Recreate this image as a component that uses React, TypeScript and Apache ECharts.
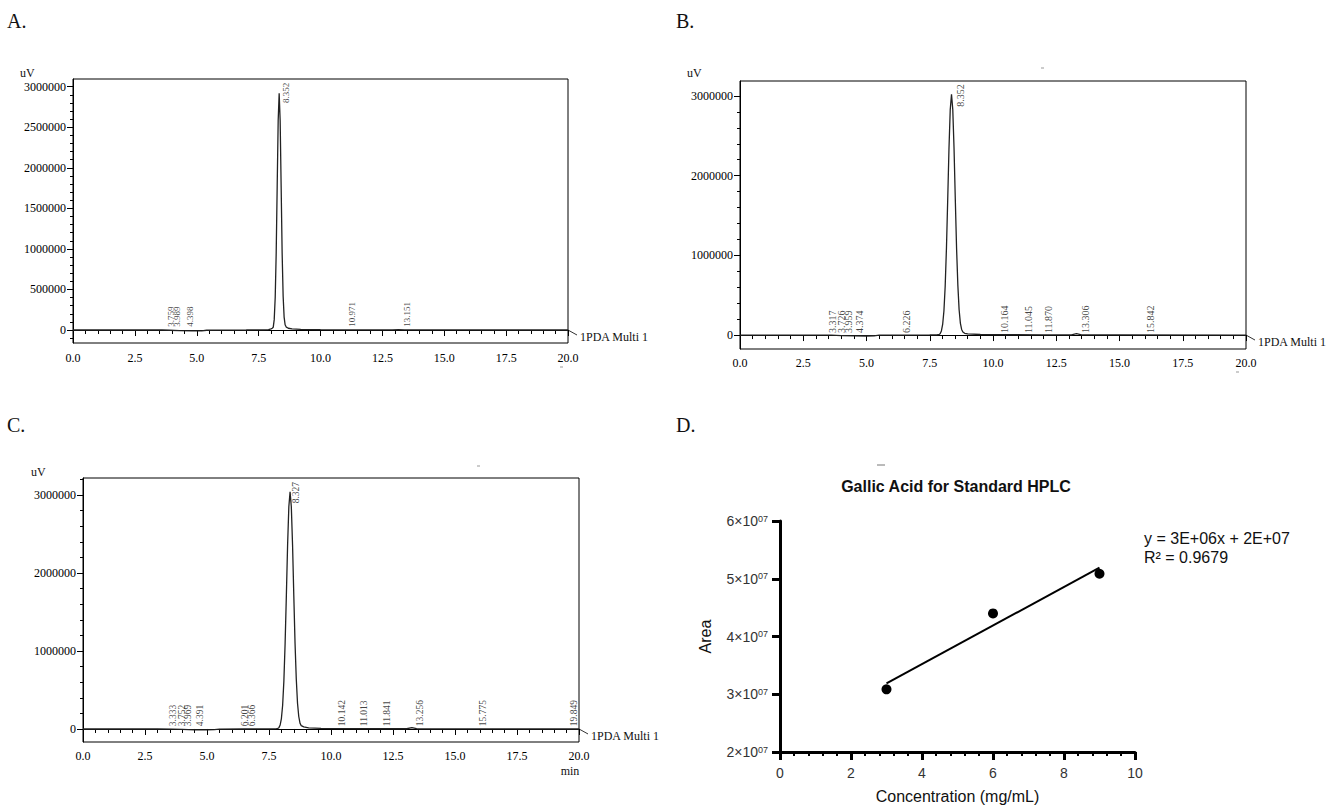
import React, { useEffect, useRef } from 'react';
import * as echarts from 'echarts';

const SERIF = '"Liberation Serif", "Times New Roman", Times, serif';
const SANS = '"Liberation Sans", Arial, Helvetica, sans-serif';

// ---------- Panel A chromatogram (time in min, signal in uV) ----------
const traceA: [number, number][] = [
  [0, 0], [1.0, 0], [2.0, 0], [3.0, 0], [3.6, 0], [3.9, -3000], [4.3, -8000], [4.8, -11000],
  [5.2, -11000], [5.4, -3000], [6.0, -1000], [7.0, 0], [7.7, 2000], [7.9, 6000], [8.0, 14000],
  [8.05, 22000], [8.09, 33000], [8.13, 128000], [8.17, 400000], [8.21, 950000], [8.25, 1770000],
  [8.29, 2580000], [8.33, 2920000], [8.37, 2580000], [8.41, 1770000], [8.45, 950000], [8.49, 420000],
  [8.53, 160000], [8.57, 65000], [8.62, 35000], [8.7, 22000], [8.85, 13000], [9.2, 7000], [10, 4000],
  [11, 3000], [12.9, 2000], [13.15, 5000], [13.4, 2000], [15, 1000], [17.5, 500], [20, 0],
];
const peaksA: [number, number, string][] = [
  [3.96, 40000, '3.759'], [4.19, 40000, '3.989'], [4.73, 40000, '4.398'],
  [8.62, 2800000, '8.352'], [11.27, 40000, '10.971'], [13.48, 40000, '13.151'],
];
const yMajorA = [0, 500000, 1000000, 1500000, 2000000, 2500000, 3000000];
const yMinorA = [
  -100000, 100000, 200000, 300000, 400000, 600000, 700000, 800000, 900000,
  1100000, 1200000, 1300000, 1400000, 1600000, 1700000, 1800000, 1900000,
  2100000, 2200000, 2300000, 2400000, 2600000, 2700000, 2800000, 2900000,
];

// ---------- Panel B chromatogram ----------
const traceB: [number, number][] = [
  [0, 0], [1.5, 0], [3.0, 0], [3.6, -2000], [4.0, -6000], [4.5, -11000], [5.0, -12000], [5.3, -9000],
  [5.5, -2000], [6.5, 0], [7.5, 2000], [7.8, 4000], [7.86, 5000], [7.91, 17000], [7.96, 51000],
  [8.01, 133000], [8.06, 302000], [8.11, 613000], [8.16, 1090000], [8.21, 1700000], [8.26, 2340000],
  [8.31, 2830000], [8.36, 3020000], [8.41, 2830000], [8.46, 2340000], [8.51, 1700000], [8.56, 1090000],
  [8.61, 630000], [8.66, 320000], [8.71, 150000], [8.76, 70000], [8.81, 38000], [8.88, 22000],
  [9.0, 14000], [9.5, 7000], [10.5, 4000], [12, 3000], [13.1, 3000], [13.3, 18000], [13.5, 3000],
  [15, 1500], [20, 0],
];
const peaksB: [number, number, string][] = [
  [3.66, 25000, '3.317'], [4.02, 25000, '3.726'], [4.28, 25000, '3.959'], [4.72, 25000, '4.374'],
  [6.59, 25000, '6.226'], [8.73, 2865000, '8.352'], [10.47, 25000, '10.164'], [11.40, 25000, '11.045'],
  [12.19, 25000, '11.870'], [13.64, 25000, '13.306'], [16.21, 25000, '15.842'],
];
const yMajorBC = [0, 1000000, 2000000, 3000000];
const yMinorB = [
  200000, 400000, 600000, 800000, 1200000, 1400000, 1600000, 1800000,
  2200000, 2400000, 2600000, 2800000,
];

// ---------- Panel C chromatogram ----------
const traceC: [number, number][] = [
  [0, 0], [1.5, 0], [3.0, 0], [3.6, -2000], [4.0, -6000], [4.5, -11000], [5.0, -12000], [5.3, -9000],
  [5.5, -2000], [6.5, 0], [7.5, 2000], [7.8, 4000], [7.85, 5000], [7.9, 17000], [7.95, 51000],
  [8.0, 134000], [8.05, 305000], [8.1, 617000], [8.15, 1100000], [8.2, 1710000], [8.25, 2360000],
  [8.3, 2850000], [8.35, 3040000], [8.4, 2850000], [8.45, 2360000], [8.5, 1710000], [8.55, 1100000],
  [8.6, 640000], [8.65, 330000], [8.7, 160000], [8.75, 75000], [8.8, 42000], [8.9, 26000],
  [9.1, 15000], [9.6, 7000], [10.5, 4000], [12, 3000], [13.05, 3000], [13.26, 18000], [13.45, 3000],
  [15, 1500], [20, 0],
];
const peaksC: [number, number, string][] = [
  [3.64, 35000, '3.333'], [3.98, 35000, '3.752'], [4.25, 35000, '3.969'], [4.72, 35000, '4.391'],
  [6.53, 35000, '6.201'], [6.80, 35000, '6.366'], [8.60, 2894000, '8.327'], [10.46, 35000, '10.142'],
  [11.35, 35000, '11.013'], [12.24, 35000, '11.841'], [13.60, 35000, '13.256'], [16.12, 35000, '15.775'],
  [19.80, 35000, '19.849'],
];
const yMinorC = [
  200000, 400000, 600000, 800000, 1200000, 1400000, 1600000, 1800000,
  2200000, 2400000, 2600000, 2800000, 3200000,
];

// ---------- Panel D calibration ----------
const concentration = [3, 6, 9];
const area = [30850000, 44000000, 50860000];
const equationText = 'y = 3E+06x + 2E+07';
const r2Text = 'R\u00B2 = 0.9679';

const chromPanels = [
  { trace: traceA, peaks: peaksA, majors: yMajorA, minors: yMinorA, grid: { left: 73, top: 79, width: 495, height: 264 }, yMin: -160000, yMax: 3095000, peakFont: 9, xMargin: 9 },
  { trace: traceB, peaks: peaksB, majors: yMajorBC, minors: yMinorB, grid: { left: 740, top: 81, width: 506, height: 268 }, yMin: -175000, yMax: 3188000, peakFont: 10, xMargin: 8 },
  { trace: traceC, peaks: peaksC, majors: yMajorBC, minors: yMinorC, grid: { left: 83, top: 478, width: 496, height: 264 }, yMin: -167000, yMax: 3218000, peakFont: 9.5, xMargin: 8 },
];

function regression(xs: number[], ys: number[]) {
  const n = xs.length;
  const mx = xs.reduce((a, b) => a + b, 0) / n;
  const my = ys.reduce((a, b) => a + b, 0) / n;
  let sxy = 0, sxx = 0;
  for (let i = 0; i < n; i++) { sxy += (xs[i] - mx) * (ys[i] - my); sxx += (xs[i] - mx) ** 2; }
  const slope = sxy / sxx;
  return { slope, intercept: my - slope * mx };
}

function buildOption() {
  const grid: any[] = [];
  const xAxis: any[] = [];
  const yAxis: any[] = [];
  const series: any[] = [];

  chromPanels.forEach((p, i) => {
    grid.push({ ...p.grid, show: true, borderColor: '#000', borderWidth: 1, backgroundColor: 'transparent' });
    xAxis.push({
      gridIndex: i, type: 'value', min: 0, max: 20, interval: 2.5,
      axisLine: { show: true, lineStyle: { color: '#000', width: 1 } },
      axisTick: { show: true, length: 6, lineStyle: { color: '#000', width: 1 } },
      minorTick: { show: true, splitNumber: 5, length: 4, lineStyle: { color: '#000', width: 1 } },
      axisLabel: { formatter: (v: number) => v.toFixed(1), fontFamily: SERIF, fontSize: 12, color: '#000', margin: p.xMargin },
      splitLine: { show: false },
    });
    yAxis.push({
      gridIndex: i, type: 'value', min: p.yMin, max: p.yMax, position: 'left',
      axisLine: { show: true, lineStyle: { color: '#000', width: 1 } },
      axisTick: { show: true, length: 6, customValues: p.majors, lineStyle: { color: '#000', width: 1 } },
      axisLabel: { customValues: p.majors, formatter: (v: number) => String(v), fontFamily: SERIF, fontSize: 12, color: '#000', margin: 7 },
      splitLine: { show: false },
    });
    yAxis.push({
      gridIndex: i, type: 'value', min: p.yMin, max: p.yMax, position: 'left', offset: 0,
      axisLine: { show: false },
      axisTick: { show: true, length: 3, customValues: p.minors, lineStyle: { color: '#000', width: 1 } },
      axisLabel: { show: false },
      splitLine: { show: false },
    });
    series.push({
      type: 'line', xAxisIndex: i, yAxisIndex: 2 * i, data: p.trace, showSymbol: false, symbol: 'none',
      lineStyle: { color: '#222', width: 1.3 }, silent: true, z: 3,
    });
    series.push({
      type: 'scatter', xAxisIndex: i, yAxisIndex: 2 * i, symbolSize: 0,
      data: p.peaks.map((d) => ({ value: [d[0], d[1]], name: d[2] })),
      itemStyle: { color: 'transparent' }, silent: true,
      label: {
        show: true, formatter: '{b}', position: [0, 0], rotate: 90, align: 'left', verticalAlign: 'middle',
        fontFamily: SERIF, fontSize: p.peakFont, color: '#111',
      },
      labelLayout: { hideOverlap: false },
      z: 4,
    });
  });

  // Panel D
  grid.push({ left: 780, top: 521, width: 355, height: 233 });
  xAxis.push({
    gridIndex: 3, type: 'value', min: 0, max: 10, interval: 2,
    axisLine: { show: true, lineStyle: { color: '#000', width: 3 } },
    axisTick: { show: true, length: 8, lineStyle: { color: '#000', width: 3 } },
    minorTick: { show: true, splitNumber: 5, length: 4, lineStyle: { color: '#000', width: 2 } },
    axisLabel: { fontFamily: SANS, fontSize: 14, color: '#333', margin: 14 },
    splitLine: { show: false },
    name: 'Concentration (mg/mL)', nameLocation: 'middle', nameGap: 36,
    nameTextStyle: { fontFamily: SANS, fontSize: 16, color: '#111' },
  });
  yAxis.push({
    gridIndex: 3, type: 'value', min: 20000000, max: 60000000, interval: 10000000,
    axisLine: { show: true, lineStyle: { color: '#000', width: 3 } },
    axisTick: { show: true, length: 8, lineStyle: { color: '#000', width: 3 } },
    axisLabel: {
      margin: 12,
      formatter: (v: number) => `{b|${Math.round(v / 1e7)}\u00D710}{s|07}`,
      rich: {
        b: { fontFamily: SANS, fontSize: 14, color: '#333', lineHeight: 14 },
        s: { fontFamily: SANS, fontSize: 9, color: '#333', lineHeight: 10, verticalAlign: 'top' },
      },
    },
    splitLine: { show: false },
    name: 'Area', nameLocation: 'middle', nameGap: 67,
    nameTextStyle: { fontFamily: SANS, fontSize: 16, color: '#111' },
  });
  const { slope, intercept } = regression(concentration, area);
  const xmin = Math.min(...concentration);
  const xmax = Math.max(...concentration);
  series.push({
    type: 'line', xAxisIndex: 3, yAxisIndex: 6, showSymbol: false, symbol: 'none',
    data: [[xmin, slope * xmin + intercept], [xmax, slope * xmax + intercept]],
    lineStyle: { color: '#000', width: 2 }, silent: true, z: 3,
  });
  series.push({
    type: 'scatter', xAxisIndex: 3, yAxisIndex: 6, symbol: 'circle', symbolSize: 10,
    data: concentration.map((c, i) => [c, area[i]]),
    itemStyle: { color: '#000', opacity: 1 }, silent: true, z: 4,
  });

  return { animation: false, backgroundColor: '#fff', grid, xAxis, yAxis, series };
}

function txt(text: string, x: number, y: number, size: number, family: string, extra: any = {}) {
  return {
    type: 'text', x, y, silent: true,
    style: { text, fontSize: size, fontFamily: family, fill: '#111', align: 'left', verticalAlign: 'middle', ...extra },
  };
}
function seg(x1: number, y1: number, x2: number, y2: number, color = '#333', w = 1) {
  return { type: 'line', silent: true, shape: { x1, y1, x2, y2 }, style: { stroke: color, lineWidth: w } };
}

function buildGraphic(chart: any) {
  const g: any[] = [
    txt('A.', 7, 21, 20, SERIF),
    txt('B.', 676, 21, 20, SERIF),
    txt('C.', 7, 425, 20, SERIF),
    txt('D.', 676, 425, 20, SERIF),
    txt('uV', 20, 73, 12, SERIF),
    txt('uV', 687, 73, 12, SERIF),
    txt('uV', 31, 472, 12, SERIF),
    txt('min', 570, 771, 12, SERIF, { align: 'center' }),
    txt('Gallic Acid for Standard HPLC', 956, 486, 16, SANS, { align: 'center', fontWeight: 'bold', fill: '#111' }),
    txt(equationText, 1144, 538, 16, SANS, { fill: '#111' }),
    txt(r2Text, 1144, 557, 16, SANS, { fill: '#111' }),
    seg(560, 367, 563, 367, '#999'),
    seg(1041, 68, 1044, 68, '#999'),
    seg(1236, 372, 1239, 372, '#999'),
    seg(477, 466, 480, 466, '#999'),
    seg(877, 465, 885, 465, '#777'),
  ];
  chromPanels.forEach((p, i) => {
    const last = p.trace[p.trace.length - 1];
    const pt = chart.convertToPixel({ seriesIndex: 2 * i }, last);
    if (pt) {
      g.push(seg(pt[0], pt[1], pt[0] + 9, pt[1] + 5, '#333', 1));
      g.push(txt('1PDA Multi 1', pt[0] + 12, pt[1] + 7, 12, SERIF));
    }
  });
  return g;
}

export default function App() {
  const ref = useRef<HTMLDivElement>(null);
  useEffect(() => {
    if (!ref.current) return;
    const chart = echarts.init(ref.current, undefined, { renderer: 'svg' });
    chart.setOption(buildOption());
    chart.setOption({ graphic: buildGraphic(chart) });
    return () => chart.dispose();
  }, []);
  return (
    <div
      ref={ref}
      style={{ position: 'absolute', left: 0, top: 0, width: 1329, height: 805, background: '#fff' }}
    />
  );
}
